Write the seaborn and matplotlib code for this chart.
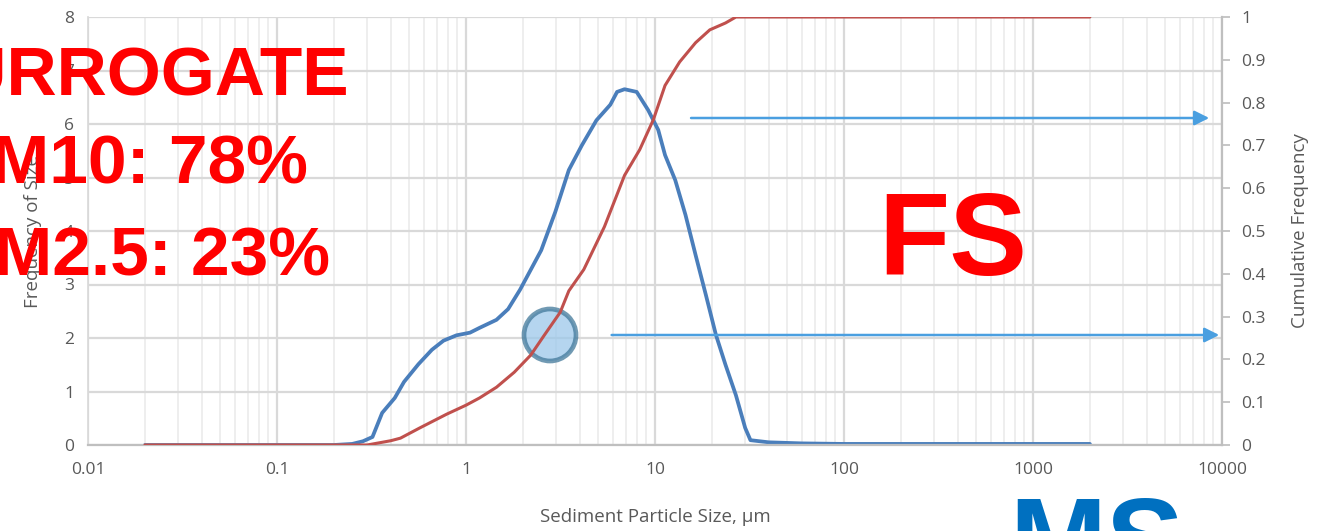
import matplotlib
matplotlib.use('Agg')
import matplotlib.pyplot as plt
from matplotlib.ticker import LogLocator, NullFormatter
import numpy as np
import pandas as pd
import seaborn as sns

# frequency of size (left axis)
freq_size = [0.02, 0.05, 0.1, 0.2, 0.25, 0.285, 0.32, 0.36, 0.42, 0.47, 0.56, 0.66, 0.76, 0.89,
             1.05, 1.18, 1.45, 1.67, 1.93, 2.5, 2.97, 3.5, 4.1, 4.9, 5.8, 6.3, 6.9, 8.0,
             9.2, 10.4, 11.3, 12.8, 14.5, 16.4, 18.6, 21, 23.6, 26.8, 30, 32, 40, 60,
             100, 300, 1000, 2000]
freq_vals = [0, 0, 0, 0, 0.02, 0.07, 0.15, 0.6, 0.88, 1.18, 1.51, 1.78, 1.95, 2.05,
             2.1, 2.19, 2.34, 2.54, 2.9, 3.64, 4.36, 5.14, 5.6, 6.07, 6.36, 6.6, 6.65, 6.6,
             6.26, 5.89, 5.42, 4.95, 4.3, 3.55, 2.8, 2.06, 1.5, 0.93, 0.32, 0.09, 0.05, 0.03,
             0.02, 0.02, 0.02, 0.02]

# cumulative frequency (right axis)
cum_size = [0.02, 0.1, 0.3, 0.4, 0.45, 0.57, 0.79, 1.0, 1.18, 1.45, 1.8, 2.2, 2.6, 3.15,
            3.5, 4.2, 5.4, 6.9, 8.3, 9.8, 11.3, 13.5, 16.4, 19.5, 23.6, 26.8, 100, 2000]
cum_vals = [0, 0, 0, 0.01, 0.016, 0.04, 0.072, 0.093, 0.11, 0.135, 0.17, 0.21, 0.257, 0.31,
            0.36, 0.41, 0.51, 0.63, 0.69, 0.76, 0.84, 0.895, 0.94, 0.97, 0.986, 1.0, 1.0, 1.0]

x_ticks = [0.01, 0.1, 1, 10, 100, 1000, 10000]
x_labels = ['0.01', '0.1', '1', '10', '100', '1000', '10000']
cum_ticks = [0, 0.1, 0.2, 0.3, 0.4, 0.5, 0.6, 0.7, 0.8, 0.9, 1]
cum_labels = ['0', '0.1', '0.2', '0.3', '0.4', '0.5', '0.6', '0.7', '0.8', '0.9', '1']

freq_df = pd.DataFrame({'size': freq_size, 'freq': freq_vals})
cum_df = pd.DataFrame({'size': cum_size, 'cum': cum_vals})

sns.set_theme(style='white')
plt.rcParams['font.family'] = ['Open Sans', 'DejaVu Sans']

W, H = 1326, 531
fig = plt.figure(figsize=(W / 100, H / 100), dpi=100)
ax = fig.add_axes([88 / W, 1 - 445 / H, (1222 - 88) / W, (445 - 17) / H])
ax2 = ax.twinx()

grey = '#595959'
ax.set_xscale('log')
ax.set_xlim(0.01, 10000)
ax.set_ylim(0, 8)
ax2.set_ylim(0, 1)

ax.xaxis.set_minor_locator(LogLocator(base=10, subs=np.arange(2, 10), numticks=100))
ax.xaxis.set_minor_formatter(NullFormatter())
ax.set_xticks(x_ticks)
ax.set_xticklabels(x_labels)
ax.set_yticks(range(0, 9))
ax2.set_yticks(cum_ticks)
ax2.set_yticklabels(cum_labels)

ax.grid(which='major', axis='both', color='#d9d9d9', lw=1.6)
ax.grid(which='minor', axis='x', color='#ededed', lw=1.3)
ax.set_axisbelow(True)

for a in (ax, ax2):
    for s in a.spines.values():
        s.set_visible(False)
ax.spines['bottom'].set_visible(True)
ax.spines['bottom'].set_color('#bfbfbf')
ax.spines['bottom'].set_linewidth(1.6)
ax.spines['left'].set_visible(True)
ax.spines['left'].set_color('#d9d9d9')
ax2.spines['right'].set_visible(True)
ax2.spines['right'].set_color('#bfbfbf')
ax2.spines['right'].set_linewidth(1.6)

ax.tick_params(axis='x', which='major', direction='in', length=6, color='#bfbfbf', labelsize=12.5,
               labelcolor=grey, pad=12)
ax.tick_params(axis='x', which='minor', direction='in', length=4, color='#bfbfbf')
ax.tick_params(axis='y', length=0, labelsize=12.5, labelcolor=grey, pad=10)
ax2.tick_params(axis='y', direction='out', length=6, color='#bfbfbf', labelsize=12.5,
                labelcolor=grey, pad=8)

sns.lineplot(data=freq_df, x='size', y='freq', ax=ax, color='#4a7ebb', lw=2.7)
sns.lineplot(data=cum_df, x='size', y='cum', ax=ax2, color='#c0504d', lw=2.2)

ax.set_xlabel('Sediment Particle Size, µm', fontsize=13.5, color=grey, labelpad=22)
ax.set_ylabel('Frequency of Size', fontsize=13.5, color=grey, labelpad=16)
ax2.set_ylabel('Cumulative Frequency', fontsize=13.5, color=grey, labelpad=18)

# highlight circle at the PM2.5 crossing
ax.add_patch(plt.Circle((550, H - 335), 26, transform=None, facecolor='#9cc8ea', alpha=0.75,
                        edgecolor='#41789a', lw=3.4, zorder=5))

# arrows toward the cumulative axis
ax2.annotate('', xy=(8850, 0.764), xytext=(15, 0.764),
             arrowprops=dict(arrowstyle='-|>', color='#4a9fe0', lw=1.8, mutation_scale=22))
ax2.annotate('', xy=(10000, 0.257), xytext=(5.7, 0.257),
             arrowprops=dict(arrowstyle='-|>', color='#4a9fe0', lw=1.8, mutation_scale=22))

# overlaid slide text
big = dict(color='#ff0000', fontweight='bold', family=['Liberation Sans', 'DejaVu Sans'],
           ha='right', va='baseline')
fig.text(350 / W, 1 - 95 / H, 'SURROGATE', fontsize=50, **big)
fig.text(308 / W, 1 - 183 / H, 'PM10: 78%', fontsize=50, **big)
fig.text(330 / W, 1 - 275 / H, 'PM2.5: 23%', fontsize=50, **big)
fig.text(953 / W, 1 - 275 / H, 'FS', fontsize=84, color='#ff0000', fontweight='bold',
         family=['Liberation Sans', 'DejaVu Sans'], ha='center', va='baseline')
fig.text(1097 / W, 1 - 495 / H, 'MS', fontsize=84, color='#0070c0', fontweight='bold',
         family=['Liberation Sans', 'DejaVu Sans'], ha='center', va='top')

fig.savefig('out.png', dpi=100)
